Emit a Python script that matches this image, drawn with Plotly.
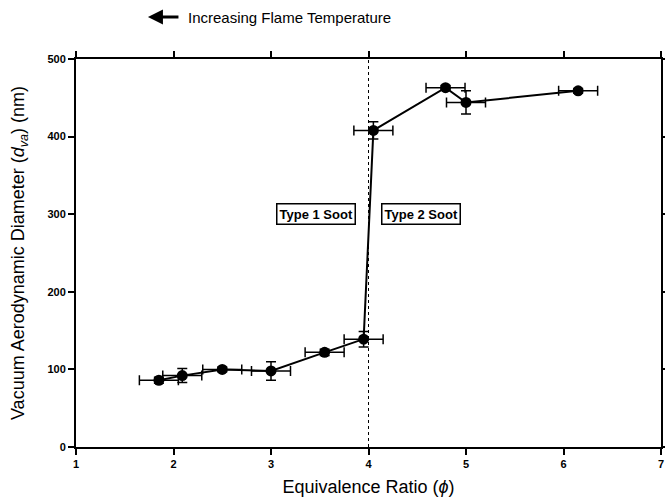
import plotly.graph_objects as go

phi = [1.85, 2.09, 2.50, 3.00, 3.55, 3.95, 4.05, 4.79, 5.00, 6.15]
dva = [86, 92, 100, 98, 122, 139, 408, 463, 444, 459]
phi_err = [0.2, 0.2, 0.2, 0.2, 0.2, 0.2, 0.2, 0.2, 0.2, 0.2]
dva_err = [4, 9, 3, 12, 4, 10, 11, 3, 15, 3]
x_ticks = [1, 2, 3, 4, 5, 6, 7]
y_ticks = [0, 100, 200, 300, 400, 500]
boundary_phi = 4.0

fig = go.Figure()
fig.add_trace(go.Scatter(
    x=phi, y=dva, mode="lines+markers",
    line=dict(color="black", width=2),
    marker=dict(color="black", size=11),
    error_x=dict(type="data", array=phi_err, color="black", thickness=1.5, width=5),
    error_y=dict(type="data", array=dva_err, color="black", thickness=1.5, width=5),
    showlegend=False,
))

fig.add_shape(type="line", x0=boundary_phi, x1=boundary_phi, y0=0, y1=500,
              xref="x", yref="y", line=dict(color="black", width=1, dash="dot"))

box = dict(bordercolor="black", borderwidth=1.5, bgcolor="white", borderpad=2,
           font=dict(family="Liberation Sans, Arial", size=13, color="black"))
fig.add_annotation(x=3.46, y=300, text="<b>Type 1 Soot</b>", showarrow=False, **box)
fig.add_annotation(x=4.54, y=300, text="<b>Type 2 Soot</b>", showarrow=False, **box)

# header arrow + text
fig.add_annotation(x=0.123, y=1.108, xref="paper", yref="paper", text="",
                   showarrow=True, ax=32, ay=0, arrowhead=2, arrowsize=1,
                   arrowwidth=3, arrowcolor="black")
fig.add_annotation(x=0.188, y=1.108, xref="paper", yref="paper",
                   text="Increasing Flame Temperature", showarrow=False,
                   xanchor="left", yanchor="middle",
                   font=dict(family="Liberation Sans Narrow, Arial Narrow, Liberation Sans", size=15, color="black"))

axis_common = dict(showgrid=False, zeroline=False, showline=True, linecolor="black",
                   linewidth=2, ticks="outside", ticklen=6, tickwidth=2, tickcolor="black",
                   mirror="ticks", automargin=False,
                   tickfont=dict(family="Liberation Sans, Arial", size=11, color="black"))

fig.update_xaxes(range=[1, 7], tickvals=x_ticks,
                 ticktext=[f"<b>{v}</b>" for v in x_ticks],
                 title=dict(text="Equivalence Ratio (<i>ϕ</i>)", standoff=11,
                            font=dict(family="Liberation Sans, Arial", size=18, color="black")),
                 **axis_common)
fig.update_yaxes(range=[0, 500], tickvals=y_ticks,
                 ticktext=[f"<b>{v}</b>" for v in y_ticks],
                 title=dict(text="Vacuum Aerodynamic Diameter (<i>d</i><sub><i>va</i></sub>) (nm)", standoff=18,
                            font=dict(family="Liberation Sans, Arial", size=18, color="black")),
                 **axis_common)

fig.update_layout(width=665, height=501, margin=dict(l=76, r=4, t=59, b=54),
                  plot_bgcolor="white", paper_bgcolor="white")

fig.write_html("out.html")
